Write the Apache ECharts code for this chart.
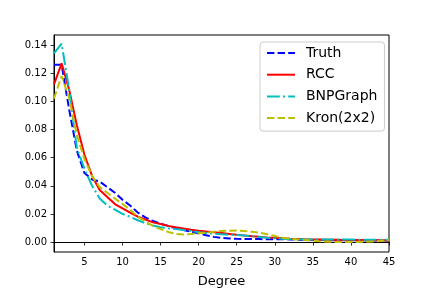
<!DOCTYPE html>
<html>
<head>
<meta charset="utf-8">
<script src="https://cdn.jsdelivr.net/npm/echarts@6/dist/echarts.min.js"></script>
<style>
html,body{margin:0;padding:0;background:#fff;}
#chart{width:432px;height:288px;}
</style>
</head>
<body>
<div id="chart"></div>
<script>
var degrees = [1,2,3,4,5,6,7,8,9,10,11,12,13,14,15,16,17,18,19,20,21,22,23,24,25,26,27,28,29,30,31,32,33,34,35,36,37,38,39,40,41,42,43,44,45];
var truth = [0.126,0.126,0.094,0.065,0.049,0.0445,0.043,0.039,0.035,0.030,0.026,0.021,0.0175,0.015,0.013,0.0115,0.0098,0.0085,0.0073,0.0062,0.0048,0.0037,0.0030,0.0025,0.0023,0.0022,0.0021,0.0021,0.0020,0.0020,0.0020,0.0019,0.0017,0.0015,0.0014,0.0014,0.0014,0.0013,0.0013,0.0013,0.0013,0.0012,0.0012,0.0012,0.0012];
var rcc = [0.112,0.127,0.108,0.083,0.062,0.047,0.037,0.032,0.027,0.024,0.021,0.018,0.016,0.014,0.0128,0.0115,0.0105,0.0096,0.0088,0.0081,0.0075,0.0070,0.0064,0.0058,0.0052,0.0047,0.0042,0.0037,0.0033,0.0030,0.0027,0.0024,0.0022,0.0020,0.0019,0.0018,0.0017,0.0016,0.0015,0.0015,0.0014,0.0014,0.0013,0.0013,0.0012];
var bnpgraph = [0.134,0.141,0.108,0.067,0.052,0.040,0.031,0.026,0.023,0.020,0.018,0.0155,0.0135,0.0118,0.0106,0.0098,0.0092,0.0085,0.0078,0.0070,0.0064,0.0059,0.0055,0.0052,0.0050,0.0046,0.0042,0.0036,0.0031,0.0027,0.0024,0.0022,0.0020,0.0019,0.0019,0.0019,0.0019,0.0018,0.0018,0.0018,0.0017,0.0017,0.0017,0.0016,0.0016];
var kron = [0.102,0.118,0.102,0.076,0.059,0.047,0.039,0.035,0.031,0.027,0.023,0.018,0.0145,0.0115,0.0093,0.0072,0.0058,0.0053,0.0057,0.0062,0.0067,0.0073,0.0078,0.0081,0.0082,0.0078,0.0073,0.0066,0.0055,0.0043,0.0031,0.0024,0.0019,0.0015,0.0010,0.0005,0.0002,0.0001,0.0001,0.0001,0.0001,0.0002,0.0004,0.0009,0.0014];
var seriesNames = ['Truth','RCC','BNPGraph','Kron(2x2)'];
var xTicks = [5,10,15,20,25,30,35,40,45];
var yTicks = [0.00,0.02,0.04,0.06,0.08,0.10,0.12,0.14];

function pairs(ys){ return degrees.map(function(d,i){ return [d, ys[i]]; }); }

var FONT = 'DejaVu Sans';
var chart = echarts.init(document.getElementById('chart'), null, {renderer:'canvas'});
chart.setOption({
  animation:false,
  backgroundColor:'#ffffff',
  textStyle:{fontFamily:FONT},
  grid:{left:54,right:43,top:35,bottom:36,containLabel:false,outerBoundsMode:'none',
    show:true,borderColor:'#000',borderWidth:1,backgroundColor:'transparent'},
  xAxis:{
    type:'value', min:1, max:45,
    name:'Degree', nameLocation:'middle', nameGap:23,
    nameTextStyle:{fontFamily:FONT,fontSize:13,color:'#000'},
    axisLine:{show:true,lineStyle:{color:'#000',width:1}},
    axisTick:{show:true,inside:false,length:3.5,customValues:xTicks,lineStyle:{color:'#000',width:0.8}},
    axisLabel:{customValues:xTicks,margin:5,fontFamily:FONT,fontSize:10,color:'#000'},
    splitLine:{show:false}
  },
  yAxis:{
    type:'value', min:-0.00705, max:0.1471,
    axisLine:{show:true,lineStyle:{color:'#000',width:1}},
    axisTick:{show:true,inside:false,length:3.5,customValues:yTicks,lineStyle:{color:'#000',width:0.8}},
    axisLabel:{customValues:yTicks,margin:7,fontFamily:FONT,fontSize:10,color:'#000',
      formatter:function(v){ return v.toFixed(2); }},
    splitLine:{show:false}
  },
  legend:{
    orient:'vertical', left:260, top:42,
    data:seriesNames,
    itemWidth:28, itemHeight:14, itemGap:7.7,
    padding:[4,7,6,6],
    itemStyle:{opacity:0},
    backgroundColor:'#ffffff', borderColor:'#cccccc', borderWidth:1, borderRadius:3,
    textStyle:{fontFamily:FONT,fontSize:14,color:'#000',padding:[0,0,0,6]}
  },
  series:[
    {name:'Truth',type:'line',data:pairs(truth),symbol:'none',showSymbol:false,z:2,
      lineStyle:{color:'#0000ff',width:2,type:[7.4,3.2]},itemStyle:{color:'#0000ff'}},
    {name:'RCC',type:'line',data:pairs(rcc),symbol:'none',showSymbol:false,z:3,
      lineStyle:{color:'#ff0000',width:2,type:'solid'},itemStyle:{color:'#ff0000'}},
    {name:'BNPGraph',type:'line',data:pairs(bnpgraph),symbol:'none',showSymbol:false,z:4,
      lineStyle:{color:'#00bfbf',width:2,type:[12.8,3.2,2,3.2]},itemStyle:{color:'#00bfbf'}},
    {name:'Kron(2x2)',type:'line',data:pairs(kron),symbol:'none',showSymbol:false,z:5,
      lineStyle:{color:'#bfbf00',width:2,type:[7.4,3.2]},itemStyle:{color:'#bfbf00'}}
  ]
});
</script>
</body>
</html>
